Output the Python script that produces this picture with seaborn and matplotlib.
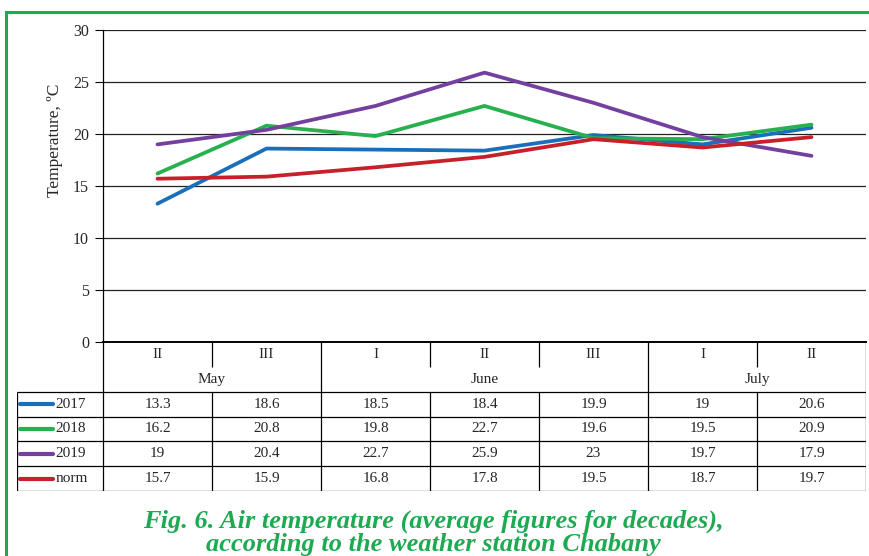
import pandas as pd
import matplotlib.pyplot as plt
import seaborn as sns
from matplotlib.patches import Rectangle

# Data
decades = ['II', 'III', 'I', 'II', 'III', 'I', 'II']
months = ['May', 'June', 'July']
month_span = [2, 3, 2]  # number of decades per month
series_names = ['2017', '2018', '2019', 'norm']
t2017 = [13.3, 18.6, 18.5, 18.4, 19.9, 19, 20.6]
t2018 = [16.2, 20.8, 19.8, 22.7, 19.6, 19.5, 20.9]
t2019 = [19, 20.4, 22.7, 25.9, 23, 19.7, 17.9]
tnorm = [15.7, 15.9, 16.8, 17.8, 19.5, 18.7, 19.7]
colors = ['#1a6fba', '#27b04d', '#7340a0', '#c8202b']
green = '#1daa52'

values = [t2017, t2018, t2019, tnorm]
rows = []
for name, vals in zip(series_names, values):
    for i, v in enumerate(vals):
        rows.append({'pos': i, 'temp': v, 'series': name})
df = pd.DataFrame(rows)

sns.set_style('white')
plt.rcParams['font.family'] = ['Liberation Serif', 'DejaVu Serif']

W, H = 869, 556
fig = plt.figure(figsize=(W / 100, H / 100), dpi=100)


def frac(x0, y0, x1, y1):
    return [x0 / W, 1 - y1 / H, (x1 - x0) / W, (y1 - y0) / H]


# main plot
ax = fig.add_axes(frac(103, 30, 866, 342))
sns.lineplot(data=df, x='pos', y='temp', hue='series', palette=colors,
             linewidth=2.7, legend=False, ax=ax)
ax.set_xlim(-0.5, len(decades) - 0.5)
ax.set_ylim(0, 30)
ax.set_yticks(range(0, 31, 5))
ax.set_xticks([])
ax.set_xlabel('')
ax.set_ylabel('Temperature, ºC', fontsize=12.5)
ax.yaxis.set_label_coords(-0.052, 0.645)
ax.tick_params(axis='y', labelsize=11.5, length=6, width=0.8, color='black',
               direction='out', left=True, pad=4)
ax.grid(axis='y', color='#222222', linewidth=0.9)
ax.set_axisbelow(True)
for side in ['top', 'right']:
    ax.spines[side].set_visible(False)
ax.spines['left'].set_color('black')
ax.spines['left'].set_linewidth(0.9)
ax.spines['bottom'].set_color('black')
ax.spines['bottom'].set_linewidth(1.4)

# data table below, x in category units, y in row units
n = len(decades)
left_px = 17
x_left = -0.5 + (left_px - 103) / (763 / n)
tab = fig.add_axes(frac(left_px, 342, 866, 491))
tab.set_xlim(x_left, n - 0.5)
tab.set_ylim(6, 0)
tab.axis('off')
lk = dict(color='black', linewidth=0.9, solid_capstyle='butt')
fs = 11

# decade row
for i, d in enumerate(decades):
    tab.text(i, 0.5, d, ha='center', va='center', fontsize=fs)
# month row
start = 0
bounds = [0]
for m, span in zip(months, month_span):
    tab.text(start - 0.5 + span / 2, 1.5, m, ha='center', va='center', fontsize=fs)
    start += span
    bounds.append(start)
# vertical lines
for k in range(n + 1):
    xb = k - 0.5
    if k in bounds:
        tab.plot([xb, xb], [0, 6], **lk)
    else:
        tab.plot([xb, xb], [0, 1], **lk)
        tab.plot([xb, xb], [2, 6], **lk)
tab.plot([x_left, x_left], [2, 6], **lk)
# horizontal lines
for r in range(2, 7):
    tab.plot([x_left, n - 0.5], [r, r], **lk)
# series rows
for j, (name, vals, c) in enumerate(zip(series_names, values, colors)):
    y = 2.5 + j
    tab.plot([x_left + 0.03, x_left + 0.33], [y, y], color=c, linewidth=3,
             solid_capstyle='round')
    tab.text(x_left + 0.35, y, name, ha='left', va='center', fontsize=fs)
    for i, v in enumerate(vals):
        tab.text(i, y, f'{v:g}', ha='center', va='center', fontsize=fs)

# green frame
fig.patches.append(Rectangle((6 / W, -0.1), 1.2, 1 - 11.5 / H + 0.1,
                             transform=fig.transFigure, fill=False,
                             edgecolor=green, linewidth=2.2))

# caption
cap = dict(ha='center', va='center', color=green, fontsize=19,
           fontweight='bold', fontstyle='italic')
fig.text(433 / W, 1 - 521 / H, 'Fig. 6. Air temperature (average figures for decades),', **cap)
fig.text(433 / W, 1 - 545 / H, 'according to the weather station Chabany', **cap)

fig.savefig('out.png', dpi=100)
